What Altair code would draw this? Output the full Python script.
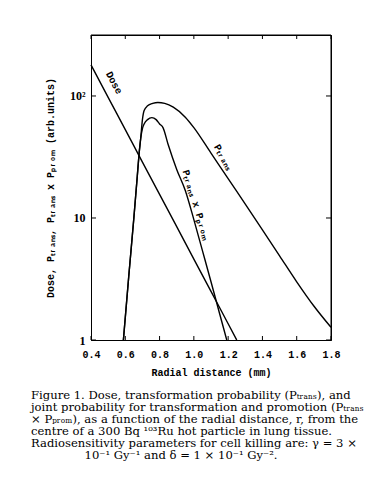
import altair as alt
import pandas as pd

# ---- data ----
dose_r = [0.4, 0.5, 0.6, 0.7, 0.8, 0.9, 1.0, 1.1, 1.2, 1.25]
dose_v = [180, 97.5, 53, 28.7, 15.6, 8.5, 4.6, 2.5, 1.36, 1.0]

ptrans_r = [0.589, 0.62, 0.65, 0.67, 0.68, 0.69, 0.70, 0.71, 0.73, 0.76, 0.79, 0.83,
            0.88, 0.95, 1.0, 1.1, 1.2, 1.3, 1.4, 1.5, 1.6, 1.7, 1.8]
ptrans_v = [1.0, 3.3, 10, 22, 33, 45, 64, 76, 83, 87, 88.5, 87,
            81, 67, 55, 34, 21, 13, 8, 4.9, 3.0, 1.9, 1.27]

joint_r = [0.589, 0.62, 0.65, 0.67, 0.68, 0.69, 0.70, 0.71, 0.73, 0.755, 0.78, 0.80,
           0.82, 0.85, 0.90, 0.95, 1.0, 1.05, 1.1, 1.15, 1.192]
joint_v = [1.0, 3.3, 10, 22, 33, 45, 54, 59, 64, 66.5, 64, 59,
           55, 40, 25, 16.8, 9.7, 5.4, 3.0, 1.65, 1.0]

x_ticks = [0.4, 0.6, 0.8, 1.0, 1.2, 1.4, 1.6, 1.8]
y_ticks = [1, 10, 100]

label_text = ["Dose", "Pₜᵣₐₙₛ", "Pₜᵣₐₙₛ x Pₚᵣₒₘ"]
label_r = [0.534, 1.17, 1.013]
label_v = [128, 31.6, 12.8]
label_angle = [62, 60, 73]

caption_lines = [
    "Figure 1. Dose, transformation probability (Pₜᵣₐₙₛ), and",
    "joint probability for transformation and promotion (Pₜᵣₐₙₛ",
    "× Pₚᵣₒₘ), as a function of the radial distance, r, from the",
    "centre of a 300 Bq ¹⁰³Ru hot particle in lung tissue.",
    "Radiosensitivity parameters for cell killing are: γ = 3 ×",
    "10⁻¹ Gy⁻¹ and δ = 1 × 10⁻¹ Gy⁻².",
]

W, H = 240, 305
MONO = "Liberation Mono"
SERIF = "DejaVu Serif"

rows = []
for name, rs, vs in [("Dose", dose_r, dose_v), ("Ptrans", ptrans_r, ptrans_v),
                     ("Joint", joint_r, joint_v)]:
    for r, v in zip(rs, vs):
        rows.append({"series": name, "r": r, "v": v})
df = pd.DataFrame(rows)

xscale = alt.Scale(domain=[0.4, 1.8], nice=False, zero=False)
yscale = alt.Scale(type="log", domain=[1, 316], nice=False)

xaxis = alt.Axis(values=x_ticks, format=".1f", ticks=False, domain=True, domainColor="black",
                 grid=False, labelFont=MONO, labelFontWeight="bold", labelFontSize=10,
                 labelColor="black", labelPadding=9, labelFlush=False, labelOverlap=False,
                 title="Radial distance (mm)", titleFont=MONO, titleFontWeight="bold",
                 titleFontSize=10, titleColor="black", titlePadding=8)
yaxis = alt.Axis(values=y_ticks, ticks=False, domain=True, domainColor="black", grid=False,
                 labelExpr="datum.value == 100 ? '10²' : datum.label",
                 labelFont="Liberation Serif", labelFontWeight="bold", labelFontSize=12,
                 labelColor="black", labelPadding=6, labelFlush=False,
                 title="Dose, Pₜᵣₐₙₛ, Pₜᵣₐₙₛ x Pₚᵣₒₘ (arb.units)",
                 titleFont=MONO, titleFontWeight="bold", titleFontSize=10,
                 titleColor="black", titleX=-36, titleY=H / 2)

X = alt.X("r:Q", scale=xscale, axis=xaxis)
Y = alt.Y("v:Q", scale=yscale, axis=yaxis)

lines = alt.Chart(df).mark_line(color="black", strokeWidth=1.4, interpolate="monotone").encode(
    x=X, y=Y, detail="series:N")

xt = pd.DataFrame({"r": x_ticks})
yt = pd.DataFrame({"v": y_ticks})
tick_style = dict(color="black", strokeWidth=1)
bottom_ticks = alt.Chart(xt).mark_rule(**tick_style).encode(
    x=X, y=alt.value(H), y2=alt.value(H - 4))
top_ticks = alt.Chart(xt).mark_rule(**tick_style).encode(
    x=X, y=alt.value(0), y2=alt.value(4))
left_ticks = alt.Chart(yt).mark_rule(**tick_style).encode(
    y=Y, x=alt.value(0), x2=alt.value(5))
right_ticks = alt.Chart(yt).mark_rule(**tick_style).encode(
    y=Y, x=alt.value(W), x2=alt.value(W - 5))

one = pd.DataFrame({"k": [0]})
top_frame = alt.Chart(one).mark_rule(**tick_style).encode(
    x=alt.value(0), x2=alt.value(W), y=alt.value(0))
right_frame = alt.Chart(one).mark_rule(**tick_style).encode(
    x=alt.value(W), y=alt.value(0), y2=alt.value(H))

label_layers = []
for t, r, v, a in zip(label_text, label_r, label_v, label_angle):
    label_layers.append(
        alt.Chart(pd.DataFrame({"t": [t], "r": [r], "v": [v]})).mark_text(
            font=MONO, fontWeight="bold", fontSize=10, color="black", angle=a,
            align="center", baseline="middle").encode(x=X, y=Y, text="t:N"))

cap_layers = []
cap_y0 = 361
for i, line in enumerate(caption_lines):
    last = i == len(caption_lines) - 1
    cap_layers.append(
        alt.Chart(pd.DataFrame({"t": [line]})).mark_text(
            font=SERIF, fontSize=11.6, color="black",
            align="center" if last else "left", baseline="middle").encode(
            x=alt.value(90 if last else -60),
            y=alt.value(cap_y0 + 12 * i),
            text="t:N"))

chart = alt.layer(lines, bottom_ticks, top_ticks, left_ticks, right_ticks,
                  top_frame, right_frame, *label_layers, *cap_layers).properties(
    width=W, height=H,
    autosize=alt.AutoSizeParams(type="none"),
    padding={"left": 83, "top": 27, "right": 47, "bottom": 135},
    background="white",
).configure_view(stroke="black", strokeWidth=1)

chart.save("out.html", embed_options={"renderer": "svg", "actions": False})
